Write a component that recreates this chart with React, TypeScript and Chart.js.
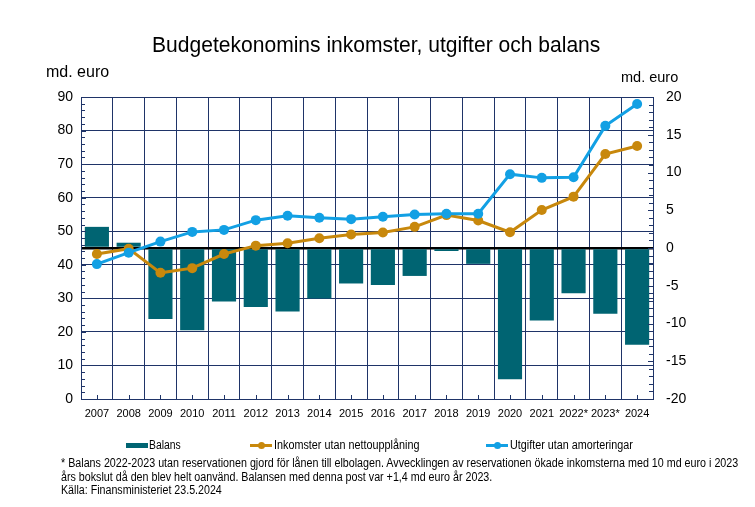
import React, { useEffect, useLayoutEffect, useRef } from "react";
import { Chart, registerables } from "chart.js";

Chart.register(...registerables);

const years = ["2007", "2008", "2009", "2010", "2011", "2012", "2013", "2014", "2015", "2016", "2017", "2018", "2019", "2020", "2021", "2022*", "2023*", "2024"];
const balans = [2.8, 0.7, -9.4, -10.9, -7.1, -7.8, -8.4, -6.7, -4.7, -4.9, -3.7, -0.4, -2.1, -17.4, -9.6, -6.0, -8.7, -12.8];
const inkomster = [43.2, 44.8, 37.6, 39.0, 43.2, 45.7, 46.4, 47.9, 49.0, 49.6, 51.3, 54.8, 53.2, 49.7, 56.3, 60.3, 73.0, 75.4];
const utgifter = [40.2, 43.6, 46.9, 49.8, 50.4, 53.3, 54.6, 54.0, 53.6, 54.3, 55.0, 55.2, 55.2, 67.0, 65.9, 66.1, 81.4, 87.9];
const leftTicks = [0, 10, 20, 30, 40, 50, 60, 70, 80, 90];
const rightTicks = [-20, -15, -10, -5, 0, 5, 10, 15, 20];

const NAVY = "#1F3468";
const TEAL = "#006472";
const ORANGE = "#C8880C";
const BLUE = "#12A0E4";
const SANS = "'Liberation Sans', Arial, sans-serif";

const minorTicks = {
  id: "minorTicks",
  afterDraw(chart: any) {
    const { ctx, chartArea, scales } = chart;
    ctx.save();
    ctx.strokeStyle = NAVY;
    ctx.lineWidth = 1;
    ctx.beginPath();
    const y = scales.y;
    for (let v = 0; v <= 90; v += 2) {
      const p = Math.round(y.getPixelForValue(v)) + 0.5;
      ctx.moveTo(chartArea.left, p);
      ctx.lineTo(chartArea.left + (v % 10 === 0 ? 5 : 4), p);
    }
    const y1 = scales.y1;
    for (let v = -20; v <= 20; v += 1) {
      const p = Math.round(y1.getPixelForValue(v)) + 0.5;
      ctx.moveTo(chartArea.right, p);
      ctx.lineTo(chartArea.right - (v % 5 === 0 ? 5 : 4), p);
    }
    const x = scales.x;
    for (let i = 0; i < years.length; i++) {
      const p = Math.round(x.getPixelForValue(i)) + 0.5;
      ctx.moveTo(p, chartArea.bottom);
      ctx.lineTo(p, chartArea.bottom - 4);
    }
    ctx.stroke();
    ctx.restore();
  },
};

function Fit(props: { left: number; top: number; width: number; size: number; text: string }) {
  const ref = useRef<HTMLDivElement | null>(null);
  useLayoutEffect(() => {
    const el = ref.current;
    if (!el) return;
    el.style.transform = "none";
    const w = el.scrollWidth;
    if (w > 0) el.style.transform = `scaleX(${props.width / w})`;
  }, [props.width, props.text]);
  return (
    <div
      ref={ref}
      style={{
        position: "absolute",
        left: props.left,
        top: props.top,
        fontFamily: SANS,
        fontSize: props.size,
        lineHeight: `${Math.round(props.size * 1.2)}px`,
        color: "#000",
        whiteSpace: "nowrap",
        transformOrigin: "0 0",
        display: "inline-block",
      }}
    >
      {props.text}
    </div>
  );
}

export default function App() {
  const ref = useRef<HTMLCanvasElement | null>(null);
  useEffect(() => {
    if (!ref.current) return;
    const chart = new Chart(ref.current, {
      type: "bar",
      data: {
        labels: years,
        datasets: [
          {
            type: "line",
            label: "Utgifter utan amorteringar",
            data: utgifter,
            yAxisID: "y",
            borderColor: BLUE,
            backgroundColor: BLUE,
            borderWidth: 3,
            pointRadius: 5,
            pointBackgroundColor: BLUE,
            pointBorderWidth: 0,
            order: 0,
          } as any,
          {
            type: "line",
            label: "Inkomster utan nettoupplåning",
            data: inkomster,
            yAxisID: "y",
            borderColor: ORANGE,
            backgroundColor: ORANGE,
            borderWidth: 3,
            pointRadius: 5,
            pointBackgroundColor: ORANGE,
            pointBorderWidth: 0,
            order: 1,
          } as any,
          {
            type: "bar",
            label: "Balans",
            data: balans,
            yAxisID: "y1",
            backgroundColor: TEAL,
            barPercentage: 0.76,
            categoryPercentage: 1,
            order: 2,
          },
        ],
      },
      options: {
        responsive: false,
        animation: false,
        layout: { padding: { left: 0, right: 0, top: 97, bottom: 78 } },
        plugins: { legend: { display: false }, tooltip: { enabled: false }, title: { display: false } },
        scales: {
          x: {
            grid: { color: NAVY, lineWidth: 1, offset: true, drawTicks: false },
            border: { color: NAVY, width: 1 },
            ticks: { color: "#000", font: { family: SANS, size: 11 }, padding: 8, maxRotation: 0, autoSkip: false },
            afterFit: (s: any) => { s.height = 30; },
          },
          y: {
            position: "left",
            min: 0,
            max: 90,
            afterBuildTicks: (s: any) => { s.ticks = leftTicks.map((v) => ({ value: v })); },
            grid: { color: NAVY, lineWidth: 1, drawTicks: false },
            border: { color: NAVY, width: 1 },
            ticks: { color: "#000", font: { family: SANS, size: 14 }, padding: 8 },
            afterFit: (s: any) => { s.width = 81; },
          },
          y1: {
            position: "right",
            min: -20,
            max: 20,
            afterBuildTicks: (s: any) => { s.ticks = rightTicks.map((v) => ({ value: v })); },
            grid: {
              drawTicks: false,
              color: (c: any) => (c.tick && c.tick.value === 0 ? "#000" : "rgba(0,0,0,0)"),
              lineWidth: (c: any) => (c.tick && c.tick.value === 0 ? 2.5 : 0),
            },
            border: { color: NAVY, width: 1 },
            ticks: { color: "#000", font: { family: SANS, size: 14 }, padding: 13 },
            afterFit: (s: any) => { s.width = 102; },
          },
        },
      },
      plugins: [minorTicks],
    });
    return () => chart.destroy();
  }, []);

  const swatch = (left: number, color: string, line: boolean) => (
    <div style={{ position: "absolute", left, top: line ? 444 : 443, width: 22, height: line ? 3 : 5, background: color }}>
      {line ? <div style={{ position: "absolute", left: 8, top: -2, width: 7, height: 7, borderRadius: 4, background: color }} /> : null}
    </div>
  );

  return (
    <div style={{ position: "absolute", left: 0, top: 0, width: 755, height: 507, background: "#fff", overflow: "hidden" }}>
      <canvas ref={ref} width={755} height={507} style={{ position: "absolute", left: 0, top: 0 }} />
      <Fit left={152} top={32} width={448} size={22} text="Budgetekonomins inkomster, utgifter och balans" />
      <div style={{ position: "absolute", left: 46, top: 63, fontFamily: SANS, fontSize: 16, color: "#000" }}>md. euro</div>
      <div style={{ position: "absolute", left: 621, top: 69, fontFamily: SANS, fontSize: 14.5, color: "#000" }}>md. euro</div>
      {swatch(126, TEAL, false)}
      {swatch(250, ORANGE, true)}
      {swatch(486, BLUE, true)}
      <Fit left={149} top={438} width={32} size={12} text="Balans" />
      <Fit left={274} top={438} width={145} size={12} text="Inkomster utan nettoupplåning" />
      <Fit left={510} top={438} width={123} size={12} text="Utgifter utan amorteringar" />
      <Fit left={61} top={456} width={677} size={12} text="* Balans 2022-2023 utan reservationen gjord för lånen till elbolagen. Avvecklingen av reservationen ökade inkomsterna med 10 md euro i 2023" />
      <Fit left={61} top={469.5} width={431} size={12} text="års bokslut då den blev helt oanvänd. Balansen med denna post var +1,4 md euro år 2023." />
      <Fit left={61} top={483} width={161} size={12} text="Källa: Finansministeriet 23.5.2024" />
    </div>
  );
}
